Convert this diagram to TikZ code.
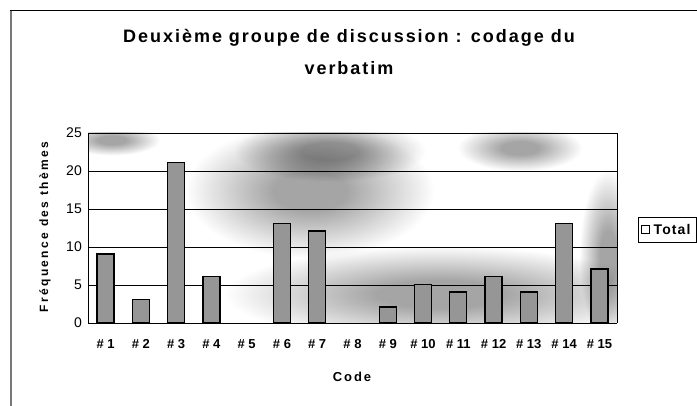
\documentclass[tikz,border=0pt]{standalone}
\usepackage{fontspec}
\setmainfont{Liberation Sans}
\usetikzlibrary{positioning}
\definecolor{barfill}{RGB}{150, 150, 150}
\definecolor{cloud}{RGB}{165, 165, 165}
\definecolor{framegray}{RGB}{120, 120, 120}
\pgfdeclareradialshading{cloudy}{\pgfpoint{0bp}{0bp}}{color(0bp)=(cloud); color(7bp)=(cloud); color(24bp)=(white); color(50bp)=(white)}
\tikzstyle{bar} = [rectangle, anchor=south, minimum width=17pt, inner sep=0pt, draw=black, line width=1.3pt, fill=barfill]
\tikzstyle{ticklabel} = [anchor=east, inner sep=0pt, font=\fontsize{14}{15}\selectfont]
\tikzstyle{codelabel} = [anchor=north, inner sep=0pt, font=\bfseries\fontsize{13}{14}\selectfont]
\tikzstyle{titletext} = [inner sep=0pt, font=\bfseries\fontsize{18}{20}\selectfont\addfontfeatures{LetterSpace=11}]
\tikzstyle{gridline} = [line width=0.9pt, black]
\tikzstyle{blob} = [shading=cloudy]

\begin{document}
\begin{tikzpicture}[x=1pt, y=1pt]
\useasboundingbox (0,0) rectangle (697,406);

% Frame
\draw [line width=1pt] (10,395) -- (697,395);
\draw [framegray, line width=1.5pt] (11,395) -- (11,0);

% Title
\node (title1) at (349,368) [titletext] {Deuxième groupe de discussion : codage du};
\node (title2) at (349,338) [titletext] {verbatim};

% Background clouds
\begin{scope}[blend group=multiply]
\clip (88,83) rectangle (617,273);
\shade [blob] (310,215) ellipse (130 and 70);
\shade [blob] (330,255) ellipse (100 and 32);
\shade [blob] (440,112) ellipse (225 and 50);
\shade [blob] (520,258) ellipse (65 and 24);
\shade [blob] (608,150) ellipse (30 and 90);
\shade [blob] (112,266) ellipse (50 and 16);
\end{scope}

% Grid and axes
\draw [gridline] (88,121) -- (617,121);
\draw [gridline] (88,159) -- (617,159);
\draw [gridline] (88,197) -- (617,197);
\draw [gridline] (88,235) -- (617,235);
\draw [gridline] (88,273) -- (617,273);
\draw [line width=0.8pt] (617,83) -- (617,273);
\draw [line width=0.8pt] (88,83) -- (88,273);
\draw [line width=0.8pt] (88,83) -- (617,83);

% Axis labels
\node (t0) at (82,83) [ticklabel] {0};
\node (t5) at (82,121) [ticklabel] {5};
\node (t10) at (82,159) [ticklabel] {10};
\node (t15) at (82,197) [ticklabel] {15};
\node (t20) at (82,235) [ticklabel] {20};
\node (t25) at (82,273) [ticklabel] {25};
\node (ylab) at (45,179) [rotate=90, inner sep=0pt, font=\bfseries\fontsize{12}{13}\selectfont\addfontfeatures{LetterSpace=20}] {Fréquence des thèmes};

% Bars
\node (bar1) at (105.6,83) [bar, minimum height=68.4pt] {};
\node (bar2) at (140.9,83) [bar, minimum height=22.8pt] {};
\node (bar3) at (176.2,83) [bar, minimum height=159.6pt] {};
\node (bar4) at (211.4,83) [bar, minimum height=45.6pt] {};
\node (bar6) at (282.0,83) [bar, minimum height=98.8pt] {};
\node (bar7) at (317.2,83) [bar, minimum height=91.2pt] {};
\node (bar9) at (387.8,83) [bar, minimum height=15.2pt] {};
\node (bar10) at (423.0,83) [bar, minimum height=38pt] {};
\node (bar11) at (458.3,83) [bar, minimum height=30.4pt] {};
\node (bar12) at (493.6,83) [bar, minimum height=45.6pt] {};
\node (bar13) at (528.8,83) [bar, minimum height=30.4pt] {};
\node (bar14) at (564.1,83) [bar, minimum height=98.8pt] {};
\node (bar15) at (599.4,83) [bar, minimum height=53.2pt] {};

% Category labels
\node (c1) at (105.6,67) [codelabel] {\# 1};
\node (c2) at (140.9,67) [codelabel] {\# 2};
\node (c3) at (176.2,67) [codelabel] {\# 3};
\node (c4) at (211.4,67) [codelabel] {\# 4};
\node (c5) at (246.7,67) [codelabel] {\# 5};
\node (c6) at (282.0,67) [codelabel] {\# 6};
\node (c7) at (317.2,67) [codelabel] {\# 7};
\node (c8) at (352.5,67) [codelabel] {\# 8};
\node (c9) at (387.8,67) [codelabel] {\# 9};
\node (c10) at (423.0,67) [codelabel] {\# 10};
\node (c11) at (458.3,67) [codelabel] {\# 11};
\node (c12) at (493.6,67) [codelabel] {\# 12};
\node (c13) at (528.8,67) [codelabel] {\# 13};
\node (c14) at (564.1,67) [codelabel] {\# 14};
\node (c15) at (599.4,67) [codelabel] {\# 15};
\node (xlab) at (352,29) [font=\bfseries\fontsize{13}{14}\selectfont\addfontfeatures{LetterSpace=15}] {Code};

% Legend
\draw [line width=0.7pt] (638,164) rectangle (696.5,189);
\node (legmark) at (645.5,176.5) [rectangle, draw=black, line width=1.4pt, minimum size=8.5pt, inner sep=0pt] {};
\node (legtext) [right=3pt of legmark, inner sep=0pt, font=\bfseries\fontsize{14}{15}\selectfont\addfontfeatures{LetterSpace=8}] {Total};

\end{tikzpicture}
\end{document}
